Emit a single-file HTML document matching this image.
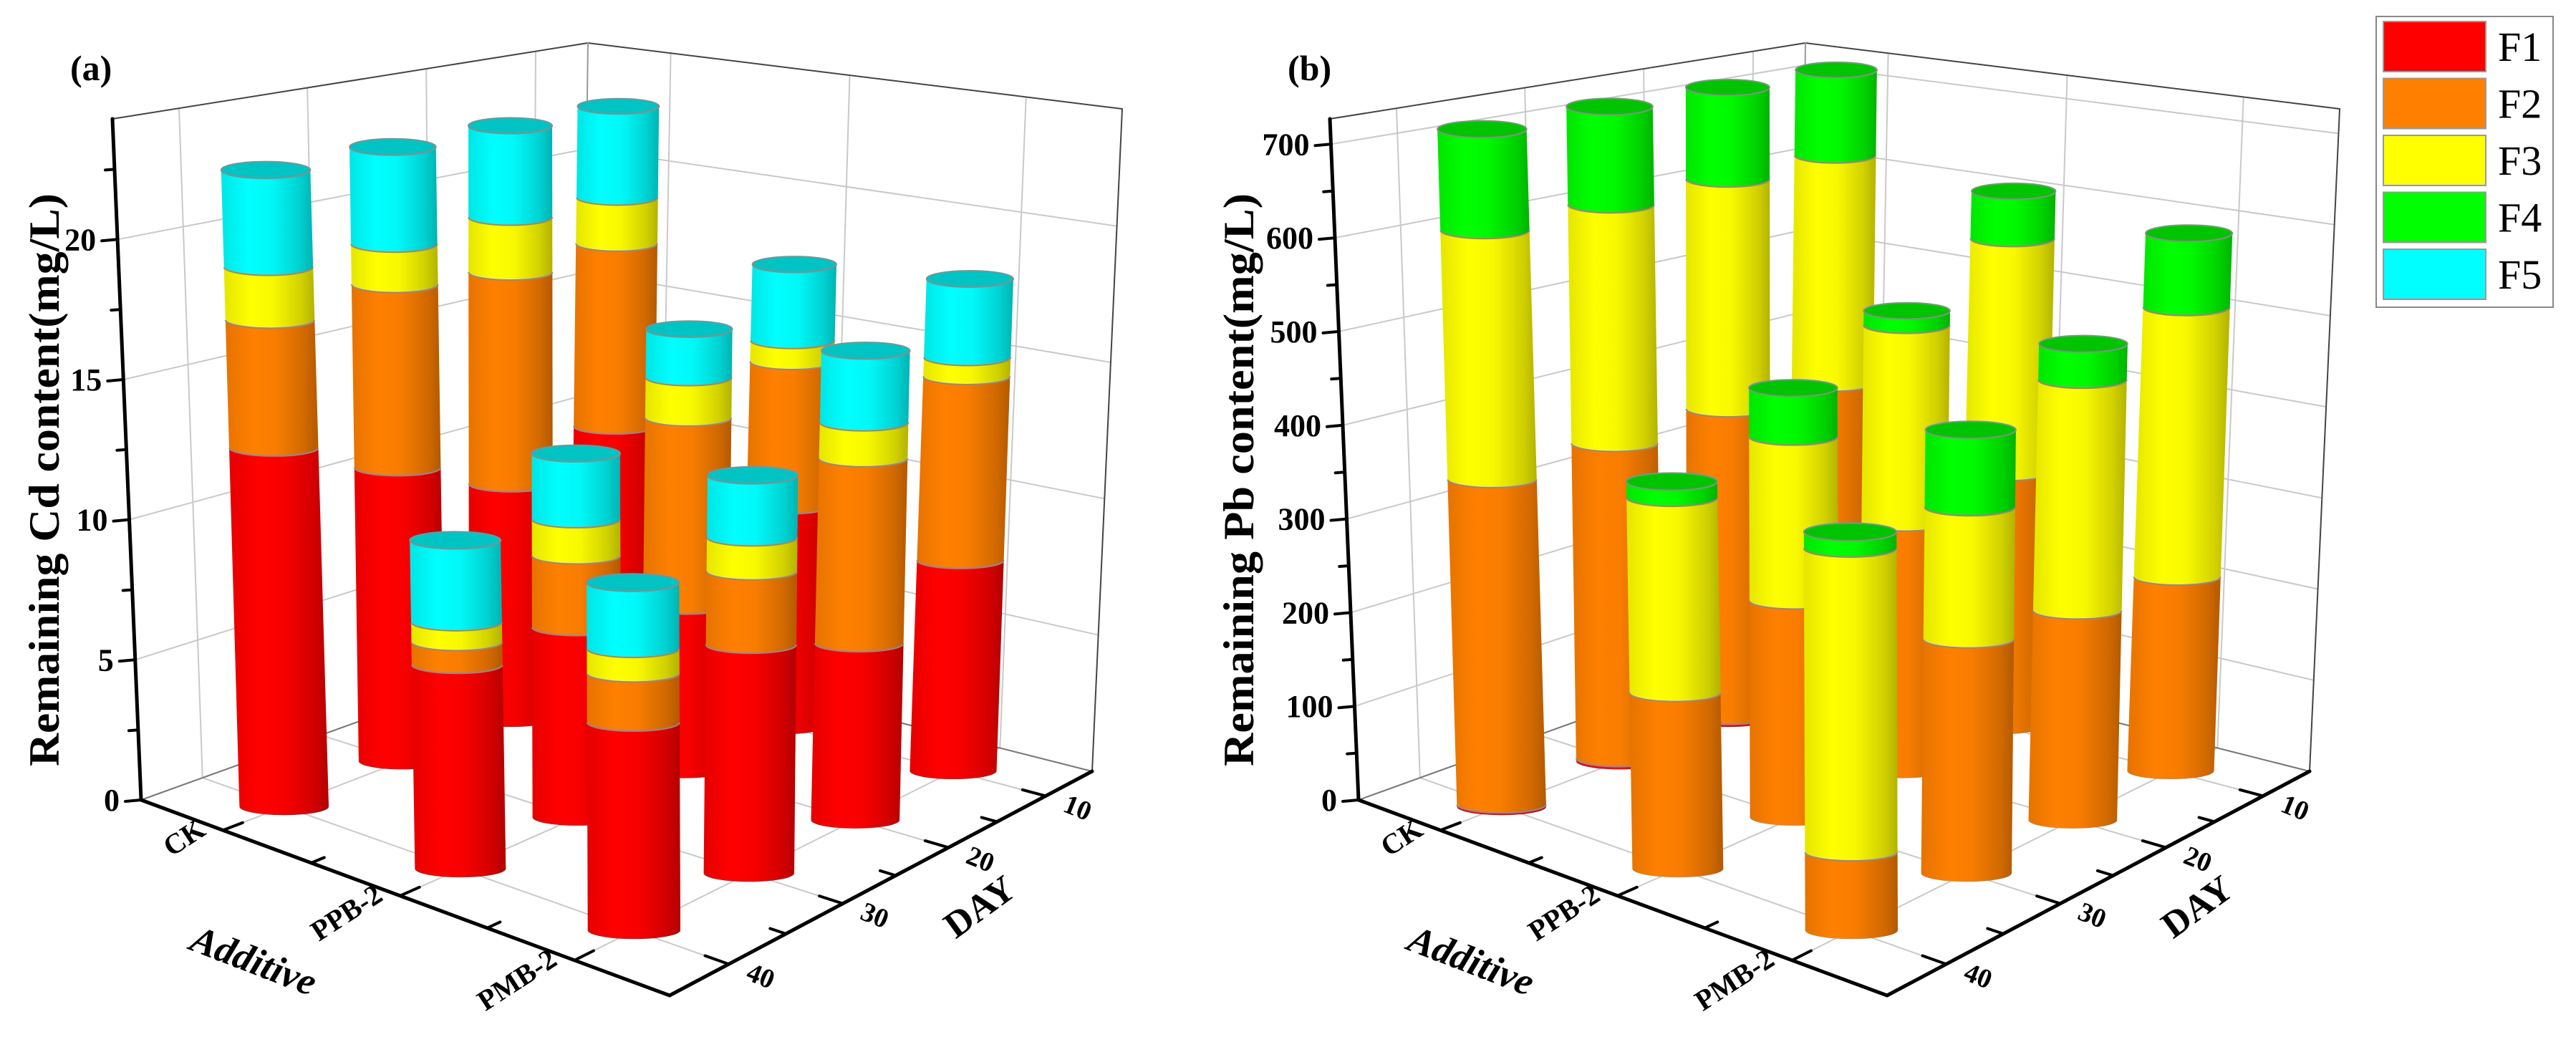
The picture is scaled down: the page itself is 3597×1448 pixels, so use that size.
<!DOCTYPE html>
<html><head><meta charset="utf-8"><title>Remaining Cd and Pb content</title>
<style>
html,body{margin:0;padding:0;background:#fff;}
svg{display:block;font-family:"Liberation Serif","DejaVu Serif",serif;}
</style></head>
<body>
<svg id="chart" xmlns="http://www.w3.org/2000/svg" width="3597" height="1448" viewBox="0 0 3597 1448">
<defs>
<linearGradient id="shade" x1="0" y1="0" x2="1" y2="0">
<stop offset="0" stop-color="#000" stop-opacity="0.10"/>
<stop offset="0.3" stop-color="#000" stop-opacity="0"/>
<stop offset="0.55" stop-color="#000" stop-opacity="0.03"/>
<stop offset="0.85" stop-color="#000" stop-opacity="0.18"/>
<stop offset="1" stop-color="#000" stop-opacity="0.30"/>
</linearGradient>
</defs>
</svg>
<script>
// ---- data ----
const additiveCats = ['CK','PPB-2','PMB-2'];
const dayCats = ['40','30','20','10'];
const fractionNames = ['F1','F2','F3','F4','F5'];
// Cd (mg/L) rows: additive, columns: day 40,30,20,10
const cdF1 = [[12.9,10.9,9.0,10.0],[7.2,6.9,6.1,8.4],[7.2,8.1,6.4,7.8]];
const cdF2 = [[4.6,6.8,8.1,7.2],[0.8,2.6,7.0,5.5],[1.7,2.6,6.7,6.8]];
const cdF3 = [[1.9,1.5,2.1,1.8],[0.7,1.3,1.5,0.8],[0.85,1.2,1.3,0.7]];
const cdF4 = [[0,0,0,0],[0,0,0,0],[0,0,0,0]];
const cdF5 = [[3.5,3.6,3.5,3.6],[2.9,2.4,1.8,2.9],[2.3,2.2,2.6,2.9]];
// Pb (mg/L)
const pbF1 = [[2,3,3,2],[0,0,0,0],[0,0,0,0]];
const pbF2 = [[350,350,352,347],[186,235,275,289],[81,248,227,215]];
const pbF3 = [[268,265,263,269],[206,178,220,267],[315,140,250,298]];
const pbF4 = [[109,109,105,101],[17,53,16,54],[17,82,39,82]];
const pbF5 = [[0,0,0,0],[0,0,0,0],[0,0,0,0]];
const cdTicks = [0,5,10,15,20];
const cdMinor = [2.5,7.5,12.5,17.5,22.5];
const pbTicks = [0,100,200,300,400,500,600,700];
const pbMinor = [50,150,250,350,450,550,650];

// ---- layout ----
const colors = ['#ff0000','#ff8000','#ffff00','#00ff00','#00ffff'];
const capColors = ['#d40000','#d96c00','#d8d800','#00c400','#00c4c4'];
const aPos = [0.155,0.49,0.82];
const dPos = [0.14,0.41,0.66,0.89];
const aMinor = [0.322,0.655];
const dMinor = [0.275,0.535,0.775];
const FL = {L:[197,1117],F:[935,1390],R:[1525,1077],B:[810,896]};
const TP = {L:[157,166],F:[932,390],R:[1567,152],B:[821,60]};
const NS = 'http://www.w3.org/2000/svg';
const svg = document.getElementById('chart');

function bil(C,a,d,i){return (1-a)*(1-d)*C.L[i]+a*(1-d)*C.F[i]+a*d*C.R[i]+(1-a)*d*C.B[i];}
function P(p,a,d,z){
  const t = z/p.zmax;
  const bx=bil(FL,a,d,0), by=bil(FL,a,d,1), tx=bil(TP,a,d,0), ty=bil(TP,a,d,1);
  return [p.ox+bx+(tx-bx)*t, by+(ty-by)*t];
}
function mk(tag, attrs, parent){
  const e=document.createElementNS(NS,tag);
  for(const k in attrs) e.setAttribute(k,attrs[k]);
  (parent||svg).appendChild(e);
  return e;
}
function line(g,p1,p2,stroke,w){
  return mk('line',{x1:p1[0].toFixed(1),y1:p1[1].toFixed(1),x2:p2[0].toFixed(1),y2:p2[1].toFixed(1),stroke:stroke,'stroke-width':w,'stroke-linecap':'round'},g);
}

function panel(p){
  const g = mk('g',{});
  
  
  const Z = p.zmax;
  // grid
  const grid = mk('g',{},g);
  
  
  const gc='#c9c9c9', gw=2;
  p.ticks.forEach(z=>{ line(grid,P(p,0,0,z),P(p,0,1,z),gc,gw); line(grid,P(p,0,1,z),P(p,1,1,z),gc,gw); });
  dPos.forEach(d=>{ line(grid,P(p,0,d,0),P(p,0,d,Z),gc,gw); line(grid,P(p,0,d,0),P(p,1,d,0),gc,gw); });
  aPos.forEach(a=>{ line(grid,P(p,a,1,0),P(p,a,1,Z),gc,gw); line(grid,P(p,a,0,0),P(p,a,1,0),gc,gw); });
  // box edges
  const box = mk('g',{},g);
  
  
  line(box,P(p,0,0,Z),P(p,0,1,Z),'#444',2);
  line(box,P(p,0,1,Z),P(p,1,1,Z),'#444',2);
  line(box,P(p,1,1,0),P(p,1,1,Z),'#444',2);
  line(box,P(p,0,1,0),P(p,0,1,Z),'#999',2);
  line(box,P(p,0,0,0),P(p,0,1,0),'#777',2);
  line(box,P(p,0,1,0),P(p,1,1,0),'#777',2);
  // axes
  const ax = mk('g',{},g);
  
  
  line(ax,P(p,0,0,0),P(p,0,0,Z),'#000',5);
  line(ax,P(p,0,0,0),P(p,1,0,0),'#000',5);
  line(ax,P(p,1,0,0),P(p,1,1,0),'#000',5);
  p.ticks.forEach((z,i)=>{
    const q=P(p,0,0,z);
    line(ax,q,[q[0]-22,q[1]+2],'#000',4);
    const t=mk('text',{x:(q[0]-30).toFixed(1),y:(q[1]+15).toFixed(1),'text-anchor':'end','font-size':44,'font-weight':'bold',fill:'#000'},g);
    t.textContent=p.tickLabels[i];
    
    
  });
  p.minor.forEach(z=>{ if(z<Z){const q=P(p,0,0,z); line(ax,q,[q[0]-13,q[1]+1],'#000',4);} });
  aPos.forEach((a,i)=>{
    line(ax,P(p,a,0,0),P(p,a,0.045,0),'#000',4);
    const q=P(p,a,0,0);
    const x=q[0]-22, y=q[1]+5;
    const t=mk('text',{x:x.toFixed(1),y:y.toFixed(1),'text-anchor':'end','font-size':40,'font-weight':'bold',transform:'rotate(-33 '+x.toFixed(1)+' '+y.toFixed(1)+')'},g);
    t.textContent=additiveCats[i];
    
    
  });
  aMinor.forEach(a=>line(ax,P(p,a,0,0),P(p,a,0.03,0),'#000',4));
  dPos.forEach((d,i)=>{
    line(ax,P(p,1,d,0),P(p,0.955,d,0),'#000',4);
    const q=P(p,1,d,0);
    const x=q[0]+40, y=q[1]+28;
    const t=mk('text',{x:x.toFixed(1),y:y.toFixed(1),'text-anchor':'middle','font-size':38,'font-weight':'bold',transform:'rotate(22 '+x.toFixed(1)+' '+y.toFixed(1)+')'},g);
    t.textContent=dayCats[i];
    
    
  });
  dMinor.forEach(d=>line(ax,P(p,1,d,0),P(p,0.97,d,0),'#000',4));
  // titles
  const yt=mk('text',{x:0,y:0,'text-anchor':'middle','font-size':60,'font-weight':'bold',textLength:800,lengthAdjust:'spacingAndGlyphs',transform:'translate('+(p.ox+p.titleX)+' 670) rotate(-90)'},g);
  yt.textContent=p.title;
  
  
  const at=mk('text',{x:0,y:0,'text-anchor':'middle','font-size':54,'font-weight':'bold','font-style':'italic',transform:'translate('+(p.ox+348)+' 1358) rotate(21)'},g);
  at.textContent='Additive';
  
  
  const dt=mk('text',{x:0,y:0,'text-anchor':'middle','font-size':52,'font-weight':'bold',transform:'translate('+(p.ox+1378)+' 1280) rotate(-36)'},g);
  dt.textContent='DAY';
  
  
  const pl=mk('text',{x:p.ox+98,y:112,'font-size':50,'font-weight':'bold'},g);
  pl.textContent=p.label;
  
  
  // bars
  const order=[];
  aPos.forEach((a,i)=>dPos.forEach((d,j)=>order.push([i,j,a-d])));
  order.sort((u,v)=>u[2]-v[2]);
  const bars = mk('g',{},g);
  
  
  order.forEach(([i,j])=>{
    const a=aPos[i], d=dPos[j];
    const vlen=bil(FL,a,d,1)-bil(TP,a,d,1);
    const rx=0.066*vlen, ry=0.19*rx;
    const bg=mk('g',{},bars);
    
    
    let z0=0, lastK=-1;
    p.series.forEach((s,k)=>{
      const v=s[i][j];
      if(v<=0) return;
      const z1=z0+v;
      const b=P(p,a,d,z0), t=P(p,a,d,z1);
      const dd='M'+(t[0]-rx).toFixed(1)+' '+t[1].toFixed(1)+' L'+(b[0]-rx).toFixed(1)+' '+b[1].toFixed(1)+
        ' A'+rx.toFixed(1)+' '+ry.toFixed(1)+' 0 0 0 '+(b[0]+rx).toFixed(1)+' '+b[1].toFixed(1)+
        ' L'+(t[0]+rx).toFixed(1)+' '+t[1].toFixed(1)+
        ' A'+rx.toFixed(1)+' '+ry.toFixed(1)+' 0 0 1 '+(t[0]-rx).toFixed(1)+' '+t[1].toFixed(1)+' Z';
      const seg=mk('path',{d:dd,fill:colors[k]},bg);
      
      
      mk('path',{d:dd,fill:'url(#shade)'},bg);
      if(z0>0){
        mk('path',{d:'M'+(b[0]-rx).toFixed(1)+' '+b[1].toFixed(1)+' A'+rx.toFixed(1)+' '+ry.toFixed(1)+' 0 0 0 '+(b[0]+rx).toFixed(1)+' '+b[1].toFixed(1),fill:'none',stroke:'#8c8c8c','stroke-width':2},bg);
      }
      z0=z1; lastK=k;
    });
    if(lastK>=0){
      const t=P(p,a,d,z0);
      const cap=mk('ellipse',{cx:t[0].toFixed(1),cy:t[1].toFixed(1),rx:rx.toFixed(1),ry:ry.toFixed(1),fill:capColors[lastK],stroke:'#8c8c8c','stroke-width':2},bg);
      
      
    }
  });
}

panel({name:'cd',ox:0,zmax:24.3,ticks:cdTicks,minor:cdMinor,tickLabels:cdTicks.map(String),title:'Remaining Cd content(mg/L)',titleX:82,label:'(a)',series:[cdF1,cdF2,cdF3,cdF4,cdF5]});
panel({name:'pb',ox:1700,zmax:727,ticks:pbTicks,minor:pbMinor,tickLabels:pbTicks.map(String),title:'Remaining Pb content(mg/L)',titleX:50,label:'(b)',series:[pbF1,pbF2,pbF3,pbF4,pbF5]});

// legend
const lg=mk('g',{});


mk('rect',{x:3318,y:23,width:247,height:406,fill:'#fff',stroke:'#888','stroke-width':2},lg);
fractionNames.forEach((n,k)=>{
  const y=30+k*79.5;
  const e=mk('g',{},lg);
  
  
  mk('rect',{x:3328,y:y,width:143,height:70,fill:colors[k],stroke:'#999','stroke-width':2},e);
  const t=mk('text',{x:3488,y:y+55,'font-size':58},e);
  t.textContent=n;
});
</script>
</body></html>
